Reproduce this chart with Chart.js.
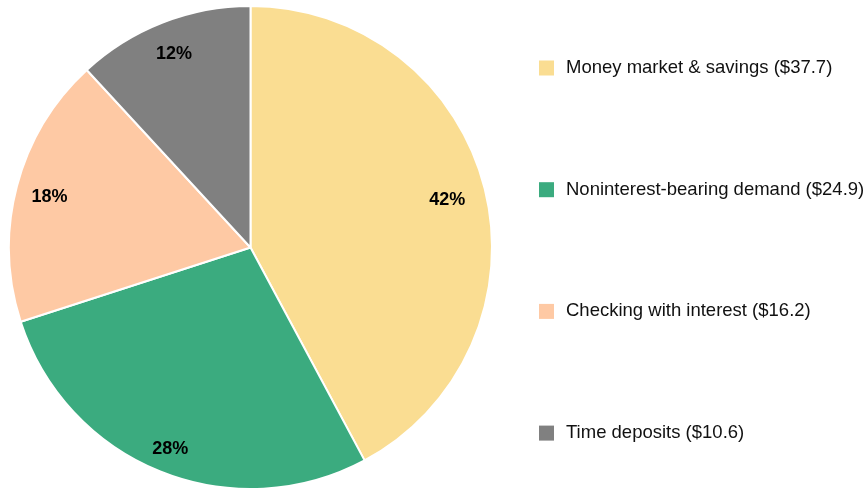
<!DOCTYPE html>
<html><head><meta charset="utf-8">
<script src="https://cdn.jsdelivr.net/npm/chart.js@4"></script>
<style>html,body{margin:0;padding:0;background:#fff;}#wrap{width:867px;height:490px;}</style>
</head><body><div id="wrap"><canvas id="c"></canvas></div>
<script>
const categories = ["Money market & savings", "Noninterest-bearing demand", "Checking with interest", "Time deposits"];
const values = [37.7, 24.9, 16.2, 10.6];
const colors = ["#FADD92", "#3BAB7F", "#FEC9A4", "#808080"];

const total = values.reduce((a, b) => a + b, 0);

const sliceLabels = {
  id: 'sliceLabels',
  afterDatasetsDraw(chart, args, opts) {
    const ctx = chart.ctx;
    const meta = chart.getDatasetMeta(0);
    ctx.save();
    ctx.font = 'bold 18px "Liberation Sans", Arial, sans-serif';
    ctx.fillStyle = '#000';
    ctx.textAlign = 'center';
    ctx.textBaseline = 'middle';
    meta.data.forEach((arc, i) => {
      const p = arc.getProps(['x', 'y', 'startAngle', 'endAngle', 'outerRadius'], true);
      const mid = (p.startAngle + p.endAngle) / 2;
      const r = p.outerRadius * opts.radii[i];
      const pct = Math.round(values[i] / total * 100) + '%';
      ctx.fillText(pct, p.x + Math.cos(mid) * r, p.y + Math.sin(mid) * r + 2);
    });
    ctx.restore();
  }
};

const sideLegend = {
  id: 'sideLegend',
  afterDraw(chart, args, opts) {
    const ctx = chart.ctx;
    ctx.save();
    ctx.font = '18.5px "Liberation Sans", Arial, sans-serif';
    ctx.textBaseline = 'middle';
    ctx.textAlign = 'left';
    categories.forEach((c, i) => {
      const y = opts.top + i * opts.step;
      ctx.fillStyle = colors[i];
      ctx.fillRect(opts.x, y - 7.5, 15, 15);
      ctx.fillStyle = '#111';
      ctx.fillText(c + ' ($' + values[i].toFixed(1) + ')', opts.x + 27, y);
    });
    ctx.restore();
  }
};

new Chart(document.getElementById('c'), {
  type: 'pie',
  data: {
    labels: categories,
    datasets: [{
      data: values,
      backgroundColor: colors,
      borderColor: '#fff',
      borderWidth: 2
    }]
  },
  options: {
    responsive: true,
    maintainAspectRatio: false,
    animation: false,
    layout: { padding: { left: 8, right: 374, top: 5, bottom: 0 } },
    plugins: {
      legend: { display: false },
      tooltip: { enabled: false },
      sliceLabels: { radii: [0.84, 0.89, 0.86, 0.87] },
      sideLegend: { x: 539, top: 68, step: 121.7 }
    }
  },
  plugins: [sliceLabels, sideLegend]
});
</script></body></html>
